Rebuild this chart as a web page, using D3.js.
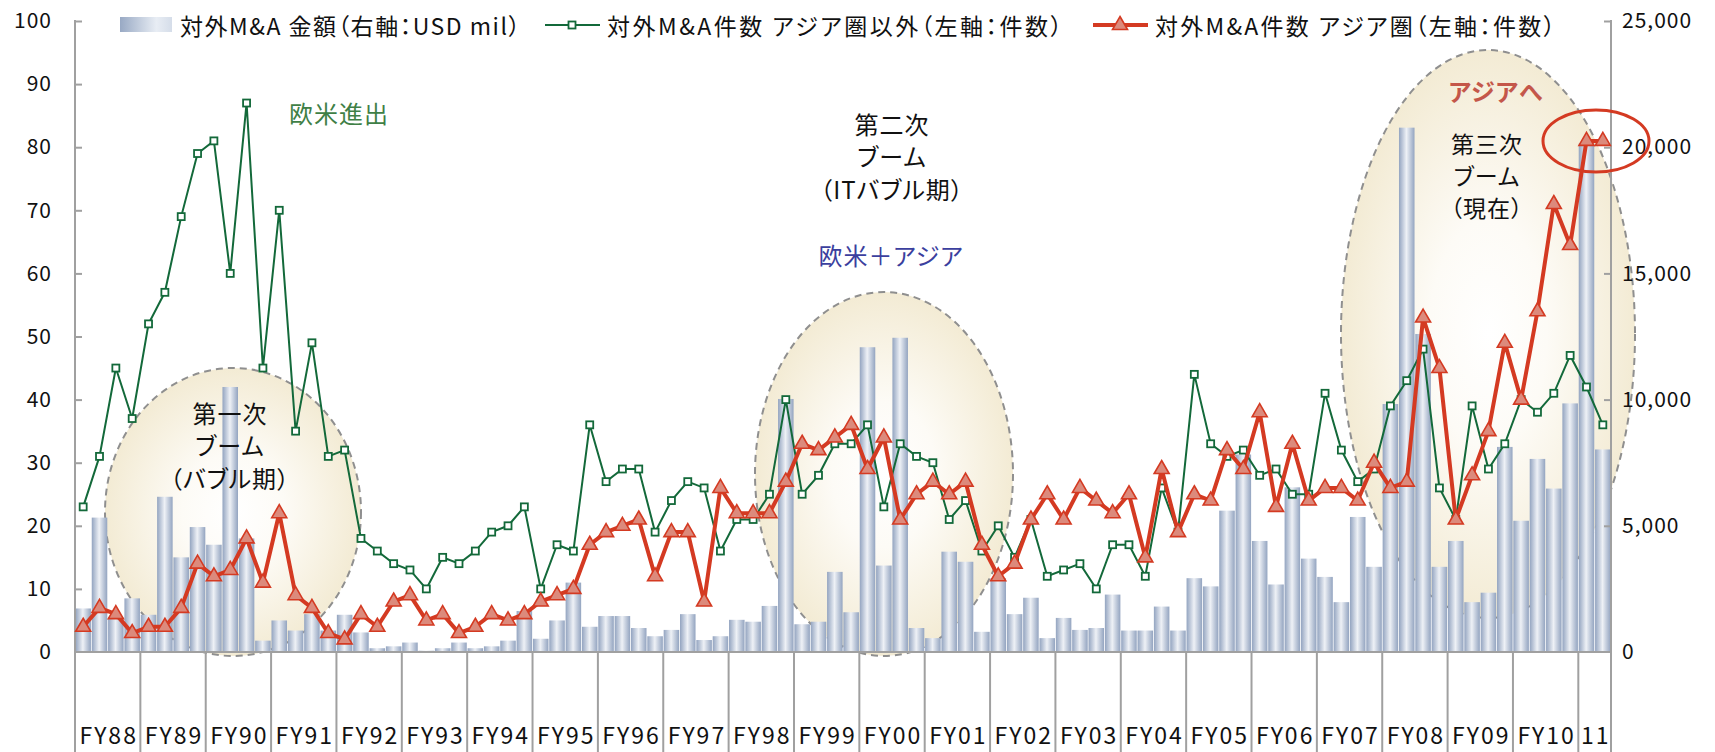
<!DOCTYPE html>
<html><head><meta charset="utf-8">
<script src="https://cdn.jsdelivr.net/npm/d3@7"></script>
<style>
html,body{margin:0;padding:0;background:#fff;}
svg{display:block;}
text{font-family:"Noto Sans CJK JP","Noto Sans",sans-serif;font-feature-settings:"palt";}
</style></head><body>
<svg id="chart" width="1715" height="752"></svg>
<script>
// ---------------- DATA ----------------
const fyLabels = ["FY88","FY89","FY90","FY91","FY92","FY93","FY94","FY95","FY96","FY97","FY98","FY99",
  "FY00","FY01","FY02","FY03","FY04","FY05","FY06","FY07","FY08","FY09","FY10","11"];
const quartersPerFY = [4,4,4,4,4,4,4,4,4,4,4,4,4,4,4,4,4,4,4,4,4,4,4,2];

// 対外M&A 金額 (USD mil, right axis)
const dealValue = [
  1725,5325,1375,2125,  1475,6150,3750,4950,  4250,10500,4500,450,  1250,850,1500,850,
  1475,775,150,225,     375,50,150,375,       150,225,450,1625,     525,1250,2750,1000,
  1425,1425,950,625,    875,1500,475,625,     1275,1200,1825,10025, 1100,1200,3175,1575,
  12075,3425,12450,950, 550,3975,3575,800,    2925,1500,2150,550,   1350,875,950,2275,
  850,850,1800,850,     2925,2600,5600,7825,  4400,2675,6525,3700,  2975,1975,5350,3375,
  9825,20775,12600,3375, 4400,1975,2350,8125, 5200,7650,6475,9850,  20150,8025];

// 対外M&A件数 アジア圏以外 (left axis)
const countNonAsia = [
  23,31,45,37, 52,57,69,79, 81,60,87,45, 70,35,49,31,
  32,18,16,14, 13,10,15,14, 16,19,20,23, 10,17,16,36,
  27,29,29,19, 24,27,26,16, 21,21,25,40, 25,28,33,33,
  36,23,33,31, 30,21,24,16, 20,15,21,12, 13,14,10,17,
  17,12,26,19, 44,33,31,32, 28,29,25,25, 41,32,27,29,
  39,43,48,26, 21,39,29,33, 40,38,41,47, 42,36];

// 対外M&A件数 アジア圏 (left axis)
const countAsia = [
  4,7,6,3, 4,4,7,14, 12,13,18,11, 22,9,7,3,
  2,6,4,8, 9,5,6,3, 4,6,5,6, 8,9,10,17,
  19,20,21,12, 19,19,8,26, 22,22,22,27, 33,32,34,36,
  29,34,21,25, 27,25,27,17, 12,14,21,25, 21,26,24,22,
  25,15,29,19, 25,24,32,29, 38,23,33,24, 26,26,24,30,
  26,27,53,45, 21,28,35,49, 40,54,71,64.5, 81,81];

const leftTicks = [0,10,20,30,40,50,60,70,80,90,100];
const rightTicks = [0,5000,10000,15000,20000,25000];

const legendLabels = ["対外M&A 金額（右軸：USD mil）","対外M&A件数 アジア圏以外（左軸：件数）","対外M&A件数 アジア圏（左軸：件数）"];
const boomLabels = [["第一次","ブーム","（バブル期）"],["第二次","ブーム","（ITバブル期）"],["第三次","ブーム","（現在）"]];
const regionLabels = ["欧米進出","欧米＋アジア","アジアへ"];

// ---------------- LAYOUT ----------------
const plot = {left:75,right:1611,top:21,bottom:652,axisBottom:752};
const GREEN = "#13693a", RED = "#d43a22", TRI_FILL = "#dc8a7c", AXIS = "#a0a0a0";

const svg = d3.select("#chart");
const defs = svg.append("defs");

const categories = [];
fyLabels.forEach((fy,i)=>{ for(let q=1;q<=quartersPerFY[i];q++) categories.push(fy+"-Q"+q); });

const pad = 0.05;
const x = d3.scaleBand().domain(categories).range([plot.left,plot.right]).paddingInner(pad).paddingOuter(pad/2);
const step = x.step();
const cx = i => x(categories[i]) + x.bandwidth()/2;
const yL = d3.scaleLinear().domain([0,100]).range([plot.bottom,plot.top]);
const yR = d3.scaleLinear().domain([0,25000]).range([plot.bottom,plot.top]);

// gradients
const bg = defs.append("linearGradient").attr("id","barGrad").attr("x1",0).attr("x2",1).attr("y1",0).attr("y2",0);
[[0,"#93a4c0"],[0.48,"#eef1f6"],[1,"#93a4c0"]].forEach(s=>bg.append("stop").attr("offset",s[0]).attr("stop-color",s[1]));
const lg = defs.append("linearGradient").attr("id","legGrad").attr("x1",0).attr("x2",1).attr("y1",0).attr("y2",0);
[[0,"#98a9c4"],[0.7,"#e8edf4"],[1,"#d5dde9"]].forEach(s=>lg.append("stop").attr("offset",s[0]).attr("stop-color",s[1]));
const rg = defs.append("radialGradient").attr("id","boomGrad");
[[0,"#ffffff"],[0.4,"#fdfbf6"],[1,"#f3ebd4"]].forEach(s=>rg.append("stop").attr("offset",s[0]).attr("stop-color",s[1]));

// boom ellipses (behind bars)
const ellipses = [
  {cx:233, cy:512, rx:128, ry:144},
  {cx:884, cy:474, rx:129, ry:182},
  {cx:1488,cy:334, rx:147, ry:284}
];
svg.append("g").selectAll("ellipse").data(ellipses).join("ellipse")
  .attr("cx",d=>d.cx).attr("cy",d=>d.cy).attr("rx",d=>d.rx).attr("ry",d=>d.ry)
  .attr("fill","url(#boomGrad)").attr("stroke","#8f8f8f").attr("stroke-width",2).attr("stroke-dasharray","7,5");

// bars
svg.append("g").selectAll("rect").data(dealValue).join("rect")
  .attr("x",(d,i)=>x(categories[i])).attr("width",x.bandwidth())
  .attr("y",d=>yR(d)).attr("height",d=>plot.bottom-yR(d))
  .attr("fill","url(#barGrad)");

// axes
const axL = svg.append("g").attr("transform",`translate(${plot.left},0)`)
  .call(d3.axisLeft(yL).tickValues(leftTicks).tickSize(-7).tickSizeOuter(0).tickPadding(23));
const axR = svg.append("g").attr("transform",`translate(${plot.right},0)`)
  .call(d3.axisRight(yR).tickValues(rightTicks).tickSize(-7).tickSizeOuter(0).tickPadding(11).tickFormat(d3.format(",")));
[axL,axR].forEach(a=>{
  a.select(".domain").remove();
  a.selectAll(".tick line").attr("stroke",AXIS).attr("stroke-width",2);
  a.selectAll(".tick text").attr("font-size",21).attr("fill","#111").attr("letter-spacing",1)
    .attr("font-family",'"Noto Sans CJK JP","Noto Sans",sans-serif');
});
axL.selectAll(".tick").filter(d=>d===0).select("line").remove();
axR.selectAll(".tick").filter(d=>d===0).select("line").remove();

const grid = svg.append("g").attr("stroke",AXIS).attr("stroke-width",2);
grid.append("line").attr("x1",plot.left).attr("x2",plot.left).attr("y1",plot.top-1).attr("y2",plot.axisBottom);
grid.append("line").attr("x1",plot.right).attr("x2",plot.right).attr("y1",plot.top-1).attr("y2",plot.axisBottom);
grid.append("line").attr("x1",plot.left).attr("x2",plot.right).attr("y1",plot.bottom).attr("y2",plot.bottom);

// year separators and labels
let acc = 0; const bounds = [];
quartersPerFY.forEach(n=>{ bounds.push([acc, acc+n]); acc += n; });
const bx = k => plot.left + step*k;
grid.selectAll("line.sep").data(bounds.slice(1)).join("line").attr("class","sep")
  .attr("x1",d=>bx(d[0])).attr("x2",d=>bx(d[0])).attr("y1",plot.bottom).attr("y2",plot.axisBottom);
svg.append("g").selectAll("text").data(fyLabels).join("text")
  .attr("x",(d,i)=>(bx(bounds[i][0])+bx(bounds[i][1]))/2+1).attr("y",744)
  .attr("text-anchor","middle")
  .attr("font-size",23).attr("letter-spacing",2).attr("fill","#111").text(d=>d);

// green line
svg.append("path").datum(countNonAsia)
  .attr("d",d3.line().x((d,i)=>cx(i)).y(d=>yL(d)))
  .attr("fill","none").attr("stroke",GREEN).attr("stroke-width",2);
svg.append("g").selectAll("rect").data(countNonAsia).join("rect")
  .attr("x",(d,i)=>cx(i)-3.5).attr("y",d=>yL(d)-3.5).attr("width",7).attr("height",7)
  .attr("fill","#fff").attr("stroke",GREEN).attr("stroke-width",1.8);

// red line
const tri = "M0,-8.5L7.5,4.5L-7.5,4.5Z";
svg.append("path").datum(countAsia)
  .attr("d",d3.line().x((d,i)=>cx(i)).y(d=>yL(d)))
  .attr("fill","none").attr("stroke",RED).attr("stroke-width",4).attr("stroke-linejoin","round");
svg.append("g").selectAll("path").data(countAsia).join("path")
  .attr("transform",(d,i)=>`translate(${cx(i)},${yL(d)})`).attr("d",tri)
  .attr("fill",TRI_FILL).attr("stroke",RED).attr("stroke-width",1.6);

// red highlight ellipse around latest points
svg.append("ellipse").attr("cx",1596).attr("cy",141).attr("rx",53).attr("ry",31)
  .attr("fill","none").attr("stroke",RED).attr("stroke-width",3);

// annotation texts
const boomPos = [{x:230,y:[412,444,477],s:24},{x:892,y:[123,155,188],s:24},{x:1487,y:[143,175,207],s:23}];
boomLabels.forEach((lines,k)=>{
  lines.forEach((t,j)=>svg.append("text").attr("x",boomPos[k].x).attr("y",boomPos[k].y[j])
    .attr("text-anchor","middle").attr("dominant-baseline","central").attr("font-size",boomPos[k].s)
    .attr("letter-spacing",1).attr("fill","#111").text(t));
});
const regPos = [{x:339,y:112,c:"#3f7f46",w:"normal"},{x:891,y:254,c:"#3b3f9e",w:"normal"},{x:1496,y:90,c:"#c4574a",w:"bold"}];
regionLabels.forEach((t,k)=>svg.append("text").attr("x",regPos[k].x).attr("y",regPos[k].y)
  .attr("text-anchor","middle").attr("dominant-baseline","central").attr("font-size",24)
  .attr("font-weight",regPos[k].w).attr("letter-spacing",1).attr("fill",regPos[k].c).text(t));

// legend
const leg = svg.append("g");
const ly = 25;
leg.append("rect").attr("x",120).attr("y",17).attr("width",52).attr("height",15).attr("fill","url(#legGrad)");
leg.append("line").attr("x1",545).attr("x2",600).attr("y1",ly).attr("y2",ly).attr("stroke",GREEN).attr("stroke-width",2);
leg.append("rect").attr("x",568.5).attr("y",ly-3.5).attr("width",7).attr("height",7).attr("fill","#fff").attr("stroke",GREEN).attr("stroke-width",1.8);
leg.append("line").attr("x1",1093).attr("x2",1148).attr("y1",ly).attr("y2",ly).attr("stroke",RED).attr("stroke-width",4);
leg.append("path").attr("transform",`translate(1120,${ly})`).attr("d",tri).attr("fill",TRI_FILL).attr("stroke",RED).attr("stroke-width",1.6);
const legPos = [{x:180,w:340},{x:607,w:455},{x:1155,w:400}];
legendLabels.forEach((t,k)=>leg.append("text").attr("x",legPos[k].x).attr("y",ly)
  .attr("dominant-baseline","central").attr("font-size",23).attr("fill","#111")
  .attr("textLength",legPos[k].w).attr("lengthAdjust","spacing").text(t));
</script>
</body></html>
